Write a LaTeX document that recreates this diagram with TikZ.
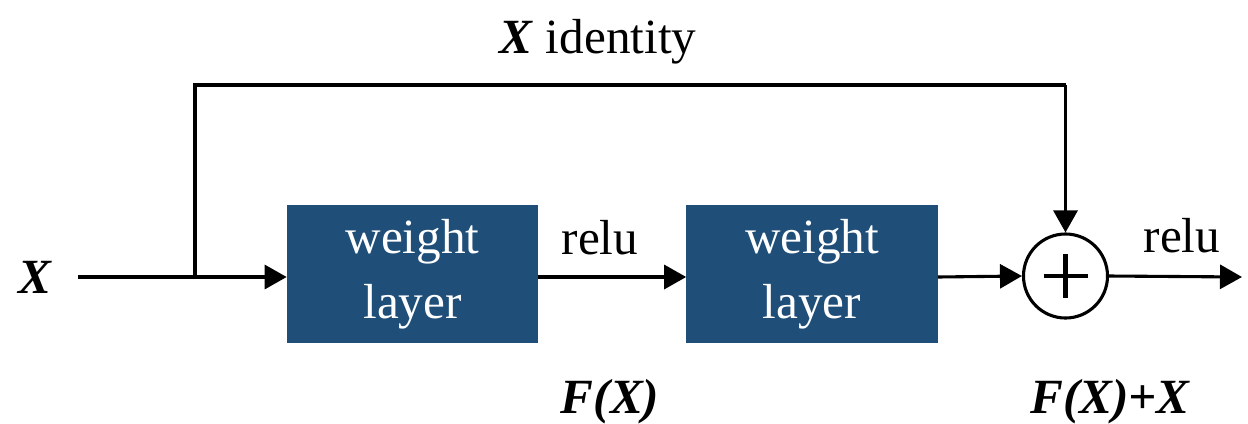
\documentclass[tikz,border=0pt]{standalone}
\usepackage{fontspec}
\setmainfont{Liberation Serif}
\usetikzlibrary{arrows.meta,calc}
\definecolor{boxblue}{HTML}{1F4E79}
\begin{document}
\begin{tikzpicture}[x=0.025cm,y=-0.025cm,
  wire/.style={line width=2.2pt,-{Triangle[length=0.55cm,width=0.6cm]}},
  plainwire/.style={line width=2.2pt},
  wbox/.style={fill=boxblue,draw=none,minimum width=6.275cm,minimum height=3.45cm,text=white,align=center,font=\fontsize{35}{46}\selectfont,inner sep=0pt},
  lbl/.style={font=\fontsize{35}{40}\selectfont,inner sep=0pt},
  blbl/.style={font=\fontsize{35}{40}\selectfont\bfseries\itshape,inner sep=0pt},
  sumnode/.style={circle,draw,line width=2.2pt,minimum size=2.1cm,inner sep=0pt}]
\useasboundingbox (0,0) rectangle (1248,423);
\node[wbox] (w1) at (412.5,274) {weight\\layer};
\node[wbox] (w2) at (812,274) {weight\\layer};
\node[sumnode] (s) at (1065.5,276) {};
\draw[line width=3.4pt] ($(s.center)+(-22,0)$) -- ($(s.center)+(22,0)$);
\draw[line width=3.4pt] ($(s.center)+(0,-22)$) -- ($(s.center)+(0,22)$);
\node[blbl] (x) at (35,277) {X};
\coordinate (xs) at (78,277);
\coordinate (br) at (195,277);
\coordinate (tl) at (195,85);
\coordinate (tr) at (1065.5,85);
\coordinate (out) at (1242,277);
\draw[plainwire] (xs) -- (br);
\draw[wire] (br) -- (w1.west |- br);
\draw[plainwire] (br) -- (tl) -- (tr);
\draw[wire] (tr) -- (s.north);
\draw[wire] (w1.east |- br) -- (w2.west |- br);
\draw[wire] (w2.east |- br) -- (s.west);
\draw[wire] (s.east) -- (out);
\node[lbl] (r1) at (600,238) {relu};
\node[lbl] (r2) at (1182,236) {relu};
\node[lbl] (id) at (598,42) {\textbf{\textit{X}} identity};
\node[blbl] (f) at (610,402) {F(X)};
\node[blbl] (fx) at (1110,402) {F(X)+X};
\end{tikzpicture}
\end{document}
